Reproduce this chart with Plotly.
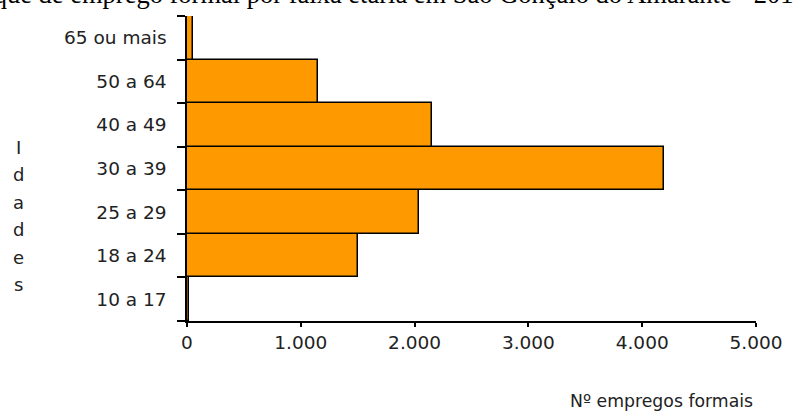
import plotly.graph_objects as go

categories = ["10 a 17", "18 a 24", "25 a 29", "30 a 39", "40 a 49", "50 a 64", "65 ou mais"]
values = [15, 1500, 2040, 4190, 2155, 1155, 55]
x_ticks = [0, 1000, 2000, 3000, 4000, 5000]
title_text = "Gráfico 10 – Estoque de emprego formal por faixa etária em São Gonçalo do Amarante - 2010"
y_title = "Idades"
x_title = "Nº empregos formais"

W, H = 794, 412
L, R, T, B = 187, 30, 16, 91
pw, ph = W - L - R, H - T - B

def px_x(px):
    return (px - L) / pw

def px_y(py):
    return (H - B - py) / ph

fig = go.Figure(go.Bar(
    x=values, y=categories, orientation="h",
    marker=dict(color="#FF9900", line=dict(color="black", width=1.5)),
    hoverinfo="skip",
))

label_font = dict(family="DejaVu Sans", size=18.5, color="#222222")

fig.update_layout(
    width=W, height=H,
    margin=dict(l=L, r=R, t=T, b=B),
    paper_bgcolor="white", plot_bgcolor="white",
    bargap=0,
    showlegend=False,
    separators=",.",
    xaxis=dict(
        range=[0, 5000], tickvals=x_ticks, tickformat=",d",
        showgrid=False, zeroline=False,
        showline=True, linecolor="black", linewidth=1.5,
        ticks="outside", ticklen=4, tickwidth=1.5, tickcolor="black",
        tickfont=label_font,
    ),
    yaxis=dict(
        type="category", categoryorder="array", categoryarray=categories,
        showgrid=False, zeroline=False,
        showline=True, linecolor="black", linewidth=1.5,
        ticks="outside", ticklen=8, tickwidth=1.5, tickcolor="black",
        tickson="boundaries", ticklabelstandoff=15,
        tickfont=label_font,
    ),
)

annotations = [
    dict(text=title_text, xref="paper", yref="paper",
         x=px_x(818), y=px_y(-6.5), xanchor="right", yanchor="middle",
         showarrow=False, font=dict(family="Liberation Serif", size=26.5, color="black")),
    dict(text=x_title, xref="paper", yref="paper",
         x=px_x(763), y=px_y(401), xanchor="right", yanchor="middle",
         showarrow=False, font=dict(family="DejaVu Sans", size=17.3, color="#222222")),
]
letter_top, letter_step = 147, 27.5
for i, ch in enumerate(y_title):
    annotations.append(dict(
        text=ch, xref="paper", yref="paper",
        x=px_x(16), y=px_y(letter_top + i * letter_step),
        xanchor="center", yanchor="middle", showarrow=False,
        font=dict(family="DejaVu Sans", size=18, color="#222222")))
fig.update_layout(annotations=annotations)

fig.write_html("out.html")
